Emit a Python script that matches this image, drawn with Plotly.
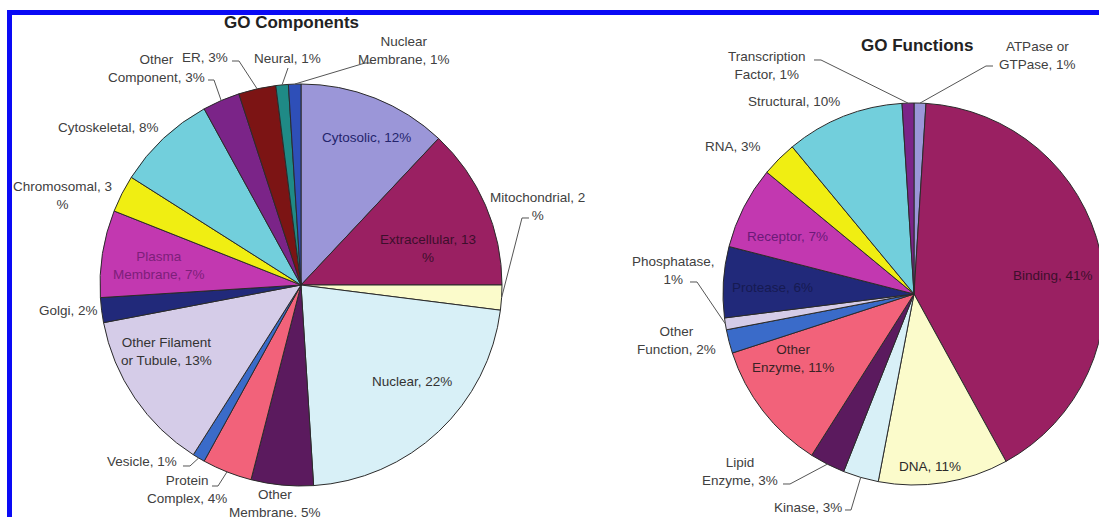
import math
import plotly.graph_objects as go

# ---------------- data ----------------
comp_labels = ["Cytosolic", "Extracellular", "Mitochondrial", "Nuclear", "Other Membrane",
               "Protein Complex", "Vesicle", "Other Filament or Tubule", "Golgi",
               "Plasma Membrane", "Chromosomal", "Cytoskeletal", "Other Component",
               "ER", "Neural", "Nuclear Membrane"]
comp_values = [12, 13, 2, 22, 5, 4, 1, 13, 2, 7, 3, 8, 3, 3, 1, 1]

func_labels = ["ATPase or GTPase", "Binding", "DNA", "Kinase", "Lipid Enzyme", "Other Enzyme",
               "Other Function", "Phosphatase", "Protease", "Receptor", "RNA", "Structural",
               "Transcription Factor"]
func_values = [1, 41, 11, 3, 3, 11, 2, 1, 6, 7, 3, 10, 1]

titles = ["GO Components", "GO Functions"]

# ---------------- style ----------------
palette = ["#9b96d8", "#9a2062", "#fbfbcb", "#d8f0f7", "#5b1a5e", "#f2627a", "#3a6bc9",
           "#d5cce8", "#21297a", "#c238b0", "#f0ee12", "#72cfdc", "#7b2488", "#7c1414",
           "#1f8a86", "#2e4fb8"]

W, H = 1106, 517
FONT = "Liberation Sans, Arial, sans-serif"
LBL = "#404040"

geom = [dict(cx=301, cy=285, r=201), dict(cx=914, cy=294, r=191)]
title_pos = [(291, 23), (917, 45)]

# label layout: name -> (x, y, text colour, break-name, break-before-%, leader)
# leader = (tick_end_x, tick_end_y, tick_dx) ; tick_dx is the horizontal tick length
comp_style = {
    "Cytosolic": (366, 137, "#24246c", None, False, None),
    "Extracellular": (428, 248, "#3d0f2c", None, True, None),
    "Mitochondrial": (537, 206, LBL, None, True, (529, 218, -7)),
    "Nuclear": (412, 381, "#333333", None, False, None),
    "Other Membrane": (275, 503, LBL, "Other<br>Membrane", False, None),
    "Protein Complex": (187, 490, LBL, "Protein<br>Complex", False, (212, 486, 6)),
    "Vesicle": (142, 461, LBL, None, False, (183, 466, 7)),
    "Other Filament or Tubule": (166, 351, "#333333", "Other Filament<br>or Tubule", False, None),
    "Golgi": (68, 310, LBL, None, False, None),
    "Plasma Membrane": (159, 265, "#7d1f7a", "Plasma<br>Membrane", False, None),
    "Chromosomal": (62, 195, LBL, None, True, None),
    "Cytoskeletal": (108, 127, LBL, None, False, None),
    "Other Component": (156, 69, LBL, "Other<br>Component", False, (208, 80, 6)),
    "ER": (205, 57, LBL, None, False, (232, 61, 7)),
    "Neural": (287, 58, LBL, None, False, (288, 68, 0)),
    "Nuclear Membrane": (404, 51, LBL, "Nuclear<br>Membrane", False, (372, 63, -7)),
}
func_style = {
    "ATPase or GTPase": (1037, 56, LBL, "ATPase or<br>GTPase", False, (993, 66, -7)),
    "Binding": (1053, 275, "#3d0f2c", None, False, None),
    "DNA": (930, 466, "#2a2a2a", None, False, None),
    "Kinase": (808, 507, LBL, None, False, (845, 510, 6)),
    "Lipid Enzyme": (740, 471, LBL, "Lipid<br>Enzyme", False, (783, 484, 7)),
    "Other Enzyme": (793, 358, "#3a2226", "Other<br>Enzyme", False, None),
    "Other Function": (676, 340, LBL, "Other<br>Function", False, None),
    "Phosphatase": (673, 270, LBL, "Phosphatase,<br>", False, (690, 282, 7)),
    "Protease": (772, 287, "#161a52", None, False, None),
    "Receptor": (787, 236, "#6b1a78", None, False, None),
    "RNA": (733, 146, LBL, None, False, None),
    "Structural": (794, 101, LBL, None, False, None),
    "Transcription Factor": (767, 66, LBL, "Transcription<br>Factor", False, (814, 60, 7)),
}


def px(x, y):
    return x / W, 1 - y / H


fig = go.Figure()
annotations = []
shapes = []

datasets = [(comp_labels, comp_values, comp_style), (func_labels, func_values, func_style)]
for k, (labels, values, style) in enumerate(datasets):
    g = geom[k]
    cx, cy, r = g["cx"], g["cy"], g["r"]
    fig.add_trace(go.Pie(
        labels=labels, values=values, sort=False, direction="clockwise", rotation=0,
        textinfo="none", hoverinfo="label+percent", showlegend=False,
        marker=dict(colors=palette[:len(values)], line=dict(color="#2b2b2b", width=1)),
        domain=dict(x=[(cx - r) / W, (cx + r) / W], y=[1 - (cy + r) / H, 1 - (cy - r) / H]),
    ))
    total = float(sum(values))
    cum = 0.0
    for name, v in zip(labels, values):
        mid = (cum + v / 2.0) / total * 2 * math.pi
        cum += v
        x, y, col, brk, pbrk, leader = style[name]
        disp = brk if brk else name
        if disp.endswith("<br>"):
            text = f"{disp}{v}%"
        else:
            text = f"{disp}, {v}{'<br>' if pbrk else ''}%"
        fx, fy = px(x, y)
        annotations.append(dict(x=fx, y=fy, xref="paper", yref="paper", text=text,
                                showarrow=False, xanchor="center", yanchor="middle",
                                align="center",
                                font=dict(family=FONT, size=13.5, color=col)))
        if leader:
            tx, ty, tdx = leader
            ex, ey = cx + r * math.sin(mid), cy - r * math.cos(mid)
            bx = tx + tdx
            p = [px(ex, ey), px(bx, ty), px(tx, ty)]
            path = "M {:.5f} {:.5f} L {:.5f} {:.5f} L {:.5f} {:.5f}".format(
                p[0][0], p[0][1], p[1][0], p[1][1], p[2][0], p[2][1])
            shapes.append(dict(type="path", path=path, xref="paper", yref="paper",
                               line=dict(color="#555555", width=1)))
    tx, ty = title_pos[k]
    fx, fy = px(tx, ty)
    annotations.append(dict(x=fx, y=fy, xref="paper", yref="paper", text=f"<b>{titles[k]}</b>",
                            showarrow=False, xanchor="center", yanchor="middle",
                            font=dict(family=FONT, size=17, color="#222222")))

# blue frame (continues past the right and bottom edges)
fx0, fy1 = px(9.5, 12.5)
shapes.append(dict(type="rect", xref="paper", yref="paper", x0=fx0, x1=1.05, y0=-0.05, y1=fy1,
                   line=dict(color="#0a0af5", width=5), fillcolor="rgba(0,0,0,0)", layer="above"))

fig.update_layout(width=W, height=H, margin=dict(l=0, r=0, t=0, b=0),
                  paper_bgcolor="white", plot_bgcolor="white",
                  annotations=annotations, shapes=shapes)

fig.write_html("out.html", config={"displayModeBar": False},
               post_script="document.body.style.margin='0';document.body.style.overflow='hidden';")
